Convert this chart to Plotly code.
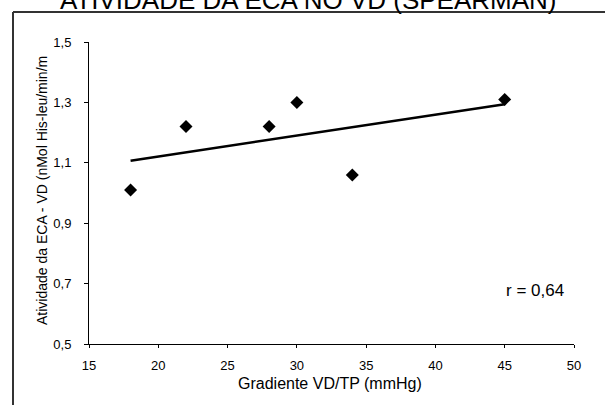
import numpy as np
import plotly.graph_objects as go

# Data
gradiente = [18, 22, 28, 30, 34, 45]
atividade = [1.01, 1.22, 1.22, 1.30, 1.06, 1.31]
x_ticks = [15, 20, 25, 30, 35, 40, 45, 50]
y_ticks = [0.5, 0.7, 0.9, 1.1, 1.3, 1.5]
title_text = "ATIVIDADE DA ECA NO VD (SPEARMAN)"
x_title = "Gradiente VD/TP (mmHg)"
y_title = "Atividade da ECA - VD (nMol His-leu/min/m"
r_text = "r = 0,64"

slope, intercept = np.polyfit(gradiente, atividade, 1)
fit_x = [min(gradiente), max(gradiente)]
fit_y = [slope * v + intercept for v in fit_x]

W, H = 605, 405
L, R, T, B = 89, 31, 42, 61
pw, ph = W - L - R, H - T - B

def px_x(p):
    return (p - L) / pw

def px_y(p):
    return 1 - (p - T) / ph

FONT = "Liberation Sans, Arial, sans-serif"

fig = go.Figure()
fig.add_trace(go.Scatter(x=fit_x, y=fit_y, mode="lines",
                         line=dict(color="black", width=2.5), hoverinfo="skip"))
fig.add_trace(go.Scatter(x=gradiente, y=atividade, mode="markers",
                         marker=dict(symbol="diamond", color="black", size=10,
                                     line=dict(width=0))))

fig.update_layout(
    width=W, height=H,
    margin=dict(l=L, r=R, t=T, b=B, pad=0),
    paper_bgcolor="white", plot_bgcolor="white",
    showlegend=False,
    separators=",.",
    font=dict(family=FONT, color="black", size=13),
    xaxis=dict(range=[15, 50], tickvals=x_ticks, showgrid=False, zeroline=False,
               showline=True, linecolor="black", linewidth=1,
               ticks="outside", ticklen=3, tickcolor="black",
               ticklabelstandoff=6,
               tickfont=dict(size=13, family=FONT)),
    yaxis=dict(range=[0.5, 1.5], tickvals=y_ticks, tickformat=".1f",
               showgrid=False, zeroline=False,
               showline=True, linecolor="black", linewidth=1,
               ticks="outside", ticklen=4, tickcolor="black",
               ticklabelstandoff=10,
               tickfont=dict(size=13, family=FONT)),
)

# Frame lines (left and top)
fig.add_shape(type="line", xref="paper", yref="paper",
              x0=px_x(13), x1=px_x(13), y0=px_y(12), y1=px_y(410),
              line=dict(color="#333333", width=2))
fig.add_shape(type="line", xref="paper", yref="paper",
              x0=px_x(13), x1=px_x(610), y0=px_y(12), y1=px_y(12),
              line=dict(color="#333333", width=2))

# Title (cut off at top, as in the reference)
fig.add_annotation(text=title_text, xref="paper", yref="paper",
                   x=px_x(308), y=px_y(0.5), xanchor="center", yanchor="middle",
                   showarrow=False, font=dict(size=26, family=FONT, color="black"))
# Axis titles
fig.add_annotation(text=x_title, xref="paper", yref="paper",
                   x=px_x(330), y=px_y(383), xanchor="center", yanchor="middle",
                   showarrow=False, font=dict(size=16, family=FONT, color="black"))
fig.add_annotation(text=y_title, xref="paper", yref="paper",
                   x=px_x(42), y=px_y(191), xanchor="center", yanchor="middle",
                   textangle=-90, showarrow=False,
                   font=dict(size=14, family=FONT, color="black"))
fig.add_annotation(text=r_text, xref="paper", yref="paper",
                   x=px_x(566), y=px_y(290), xanchor="right", yanchor="middle",
                   showarrow=False, font=dict(size=17, family=FONT, color="black"))

fig.write_html("out.html")
